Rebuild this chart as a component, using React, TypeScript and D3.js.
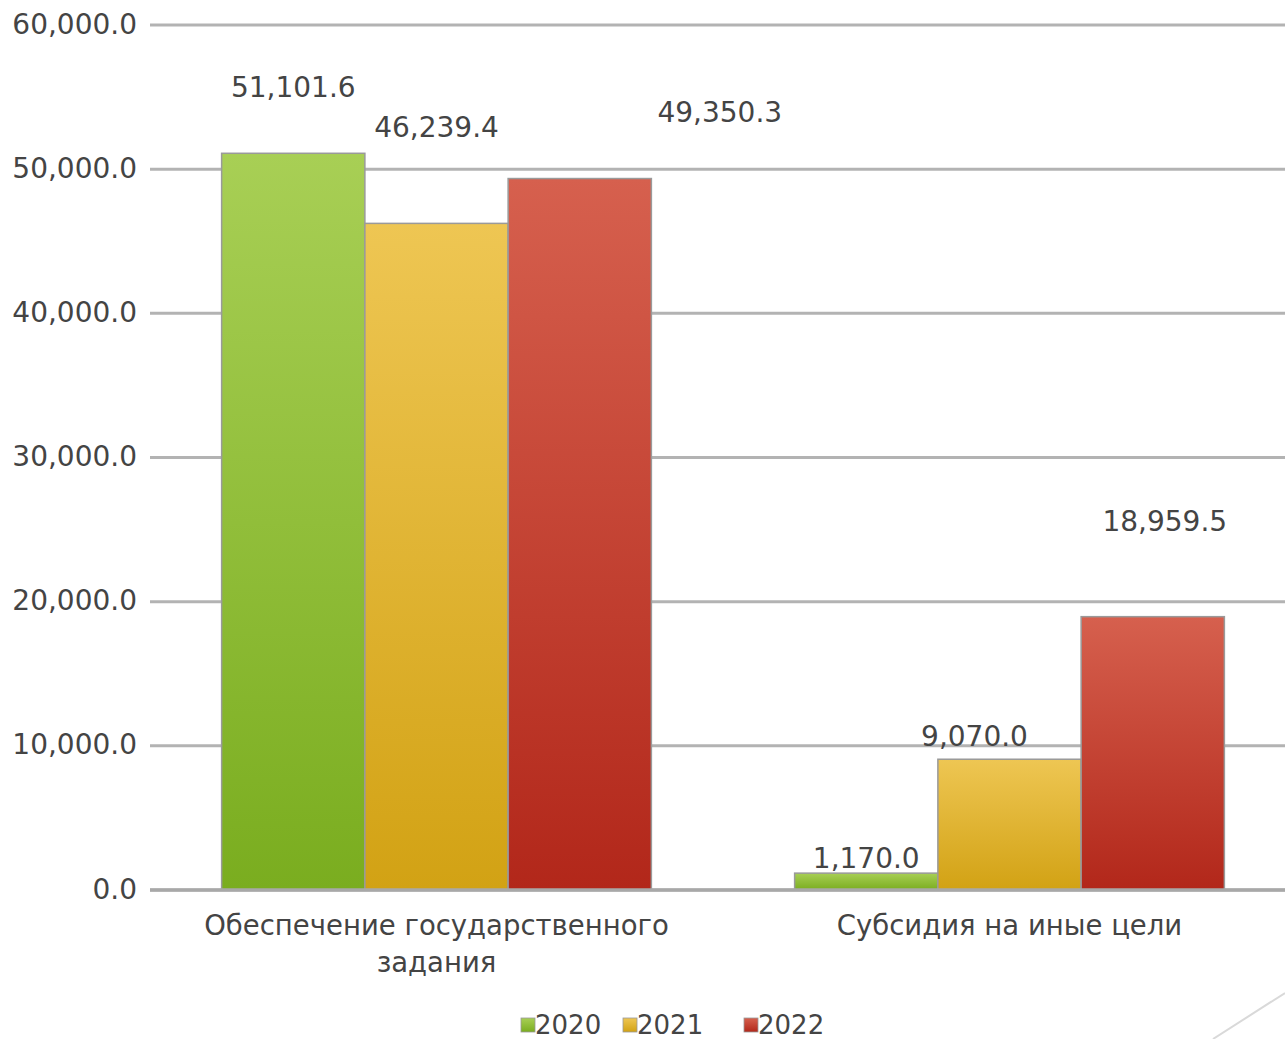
import { format, max, scaleBand, scaleLinear } from "d3";

const categories = ["Обеспечение государственного задания", "Субсидия на иные цели"];
const years = ["2020", "2021", "2022"];
const values2020 = [51101.6, 1170.0];
const values2021 = [46239.4, 9070.0];
const values2022 = [49350.3, 18959.5];
const yTicks = [0, 10000, 20000, 30000, 40000, 50000, 60000];

// data labels were dragged by hand in the original, these are the nudges (px) per year/category
const labelNudgeX = [
  [0, 0],
  [0, -35],
  [140, 12]
];
const labelNudgeY = [
  [-66, -15],
  [-96, -23],
  [-66, -95]
];

const width = 1285;
const height = 1039;
const plotLeft = 150;
const plotRight = 1296;
const plotTop = 25;
const plotBottom = 890;

const seriesColors = [
  { top: "#a8cf55", bottom: "#7aad1f", key: "g2020" },
  { top: "#eec653", bottom: "#d2a214", key: "g2021" },
  { top: "#d6604e", bottom: "#b2271a", key: "g2022" }
];

const fmt = format(",.1f");
const textColor = "#444";
const fontFamily = "'DejaVu Sans', Verdana, sans-serif";

export default function App(): React.JSX.Element {
  const series = [values2020, values2021, values2022];
  const y = scaleLinear()
    .domain([0, max(yTicks) ?? 60000])
    .range([plotBottom, plotTop]);
  const x0 = scaleBand<string>().domain(categories).range([plotLeft, plotRight]).padding(0);
  const x1 = scaleBand<string>()
    .domain(years)
    .range([0, x0.bandwidth()])
    .paddingInner(0)
    .paddingOuter(0.5);

  return (
    <svg
      height={height}
      style={{ position: "absolute", left: 0, top: 0, background: "#fff" }}
      viewBox={`0 0 ${width} ${height}`}
      width={width}
    >
      <defs>
        {seriesColors.map((c) => (
          <linearGradient id={c.key} key={c.key} x1="0" x2="0" y1="0" y2="1">
            <stop offset="0%" stopColor={c.top} />
            <stop offset="100%" stopColor={c.bottom} />
          </linearGradient>
        ))}
      </defs>
      <rect fill="#fff" height={height} width={width} />

      {/* gridlines + y labels */}
      {yTicks.map((t) => (
        <g key={t}>
          <line
            stroke="#b3b3b3"
            strokeWidth={3}
            x1={plotLeft}
            x2={width}
            y1={y(t)}
            y2={y(t)}
          />
          <text
            dominantBaseline="central"
            fill={textColor}
            fontFamily={fontFamily}
            fontSize={28}
            textAnchor="end"
            x={137}
            y={y(t) - 1}
          >
            {fmt(t)}
          </text>
        </g>
      ))}

      {/* bars */}
      {categories.map((cat, ci) => (
        <g key={cat} transform={`translate(${x0(cat) ?? 0},0)`}>
          {years.map((yr, si) => {
            const v = series[si][ci];
            return (
              <rect
                fill={`url(#${seriesColors[si].key})`}
                height={y(0) - y(v)}
                key={yr}
                stroke="#9a9a9a"
                strokeWidth={1.5}
                width={x1.bandwidth()}
                x={x1(yr) ?? 0}
                y={y(v)}
              />
            );
          })}
        </g>
      ))}

      {/* baseline */}
      <line stroke="#a8a8a8" strokeWidth={3.5} x1={plotLeft} x2={width} y1={y(0)} y2={y(0)} />

      {/* data labels */}
      {categories.map((cat, ci) =>
        years.map((yr, si) => {
          const v = series[si][ci];
          const cx = (x0(cat) ?? 0) + (x1(yr) ?? 0) + x1.bandwidth() / 2;
          return (
            <text
              dominantBaseline="central"
              fill={textColor}
              fontFamily={fontFamily}
              fontSize={28}
              key={`${cat}-${yr}`}
              textAnchor="middle"
              x={cx + labelNudgeX[si][ci]}
              y={y(v) + labelNudgeY[si][ci]}
            >
              {fmt(v)}
            </text>
          );
        })
      )}

      {/* category labels */}
      {categories.map((cat) => {
        const cx = (x0(cat) ?? 0) + x0.bandwidth() / 2;
        const lines = cat === categories[0] ? ["Обеспечение государственного", "задания"] : [cat];
        return (
          <text
            fill={textColor}
            fontFamily={fontFamily}
            fontSize={27.5}
            key={cat}
            textAnchor="middle"
            x={cx}
            y={935}
          >
            {lines.map((l, i) => (
              <tspan dy={i === 0 ? 0 : 37} key={l} x={cx}>
                {l}
              </tspan>
            ))}
          </text>
        );
      })}

      {/* legend */}
      {years.map((yr, i) => {
        const lx = [521, 623, 744][i];
        return (
          <g key={yr}>
            <rect
              fill={`url(#${seriesColors[i].key})`}
              height={14}
              stroke="#9a9a9a"
              strokeWidth={0.8}
              width={14}
              x={lx}
              y={1018}
            />
            <text
              dominantBaseline="central"
              fill={textColor}
              fontFamily={fontFamily}
              fontSize={26}
              x={lx + 14}
              y={1025}
            >
              {yr}
            </text>
          </g>
        );
      })}

      {/* slide corner decoration */}
      <line stroke="#d9d9d9" strokeWidth={2} x1={1213} x2={1285} y1={1039} y2={993} />
    </svg>
  );
}
